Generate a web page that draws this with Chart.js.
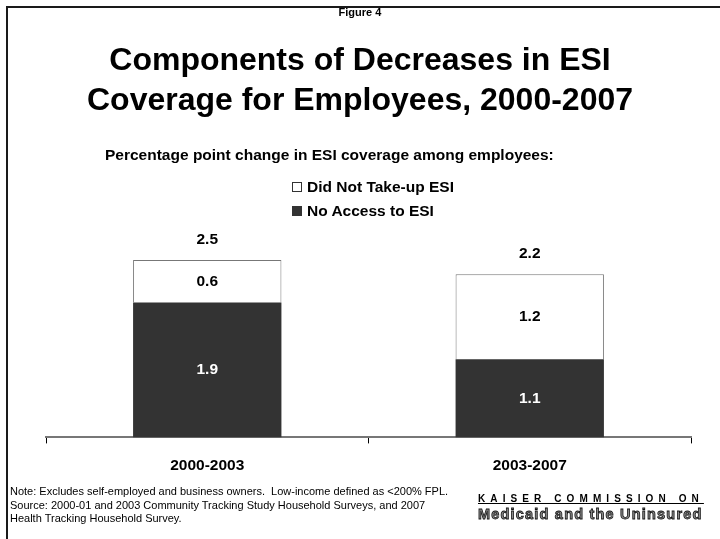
<!DOCTYPE html>
<html>
<head>
<meta charset="utf-8">
<script src="https://cdn.jsdelivr.net/npm/chart.js@4.4.1/dist/chart.umd.min.js"></script>
<style>
  body { margin: 0; background: #fff; font-family: "Liberation Sans", Arial, sans-serif; }
  #wrap { position: relative; width: 720px; height: 539px; overflow: hidden; }
  #frame { position: absolute; left: 6px; top: 6px; width: 740px; height: 560px; border: 2px solid #1a1a1a; box-sizing: border-box; }
  canvas { position: absolute; left: 0; top: 0; }
  .txt { position: absolute; color: #000; font-weight: bold; white-space: nowrap; }
  #fig { left: 0; width: 720px; top: 6px; text-align: center; font-size: 11px; }
  #title { left: 0; width: 720px; top: 39px; text-align: center; font-size: 32px; line-height: 40px; }
  #sub { left: 105px; top: 146px; font-size: 15.5px; }
  #legend { left: 292px; top: 175px; font-size: 15.5px; line-height: 24px; }
  #legend span.box { display: inline-block; width: 10px; height: 10px; border: 1px solid #333; box-sizing: border-box; margin-right: 5px; vertical-align: 0px; }
  #note { left: 10px; top: 485px; font-size: 11px; font-weight: normal; line-height: 13.5px; }
  #k1 { left: 478px; top: 493px; font-size: 10px; letter-spacing: 5.1px; text-decoration: underline; }
  #k2 { left: 478px; top: 506px; font-size: 14.5px; color: #8a8a8a; -webkit-text-stroke: 0.8px #111; letter-spacing: 1.2px; }
</style>
</head>
<body>
<div id="wrap">
  <canvas id="chart" width="720" height="539"></canvas>
  <div id="frame"></div>
  <div class="txt" id="fig">Figure 4</div>
  <div class="txt" id="title">Components of Decreases in ESI<br>Coverage for Employees, 2000-2007</div>
  <div class="txt" id="sub">Percentage point change in ESI coverage among employees:</div>
  <div class="txt" id="legend">
    <div><span class="box" style="background:#fff"></span>Did Not Take-up ESI</div>
    <div><span class="box" style="background:#333"></span>No Access to ESI</div>
  </div>
  <div class="txt" id="note">Note: Excludes self-employed and business owners.&nbsp; Low-income defined as &lt;200% FPL.<br>Source: 2000-01 and 2003 Community Tracking Study Household Surveys, and 2007<br>Health Tracking Household Survey.</div>
  <div class="txt" id="k1">KAISER COMMISSION ON</div>
  <div class="txt" id="k2">Medicaid and the Uninsured</div>
</div>
<script>
const periods = ['2000-2003', '2003-2007'];
const noAccess = [1.9, 1.1];
const notTakeUp = [0.6, 1.2];
const totals = [2.5, 2.2];

const FONT = '"Liberation Sans", Arial, sans-serif';

// writes segment values inside the bars and the totals above each stack
const barLabels = {
  id: 'barLabels',
  afterDatasetsDraw(chart) {
    const ctx = chart.ctx;
    ctx.save();
    ctx.font = 'bold 15.5px ' + FONT;
    ctx.textAlign = 'center';
    ctx.textBaseline = 'middle';
    chart.data.datasets.forEach((ds, i) => {
      chart.getDatasetMeta(i).data.forEach((bar, j) => {
        const mid = (bar.y + bar.base) / 2;
        ctx.fillStyle = i === 0 ? '#fff' : '#000';
        ctx.fillText(ds.data[j].toFixed(1), bar.x, mid);
      });
    });
    // totals sit just above the top segment of each stack
    chart.getDatasetMeta(1).data.forEach((bar, j) => {
      ctx.fillStyle = '#000';
      ctx.fillText(totals[j].toFixed(1), bar.x, bar.y - 20);
    });
    ctx.restore();
  }
};

new Chart(document.getElementById('chart'), {
  type: 'bar',
  data: {
    labels: periods,
    datasets: [
      {
        label: 'No Access to ESI',
        data: noAccess,
        backgroundColor: '#333333',
        borderColor: '#333333',
        borderWidth: 0
      },
      {
        label: 'Did Not Take-up ESI',
        data: notTakeUp,
        backgroundColor: '#ffffff',
        borderColor: '#777777',
        borderWidth: 1,
        borderSkipped: 'bottom'
      }
    ]
  },
  options: {
    responsive: false,
    animation: false,
    events: [],
    layout: { padding: { left: 46, right: 29, top: 189, bottom: 51 } },
    datasets: { bar: { barPercentage: 0.92, categoryPercentage: 0.5 } },
    plugins: { legend: { display: false }, tooltip: { enabled: false } },
    scales: {
      x: {
        stacked: true,
        border: { color: '#777', width: 2 },
        grid: { offset: true, drawOnChartArea: false, drawTicks: true, tickLength: 6, color: '#000', lineWidth: 1 },
        ticks: { color: '#000', padding: 13, font: { family: FONT, size: 15.5, weight: 'bold' } }
      },
      y: {
        stacked: true,
        display: false,
        min: 0,
        max: 3.5
      }
    }
  },
  plugins: [barLabels]
});
</script>
</body>
</html>
